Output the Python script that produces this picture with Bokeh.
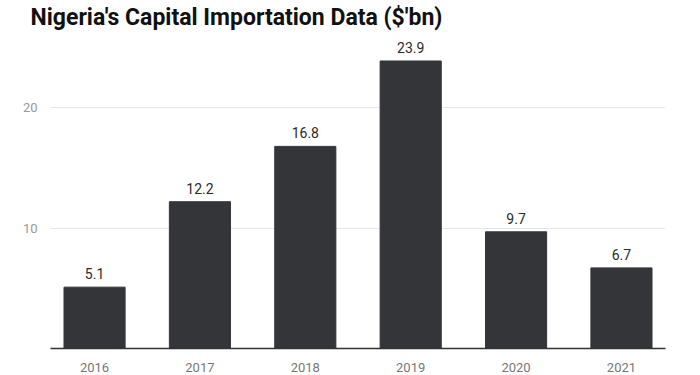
from bokeh.plotting import figure
from bokeh.models import Range1d, FixedTicker, ColumnDataSource, LabelSet, Title
from bokeh.core.properties import value
from bokeh.embed import file_html
from bokeh.resources import INLINE

years = ["2016", "2017", "2018", "2019", "2020", "2021"]
values = [5.1, 12.2, 16.8, 23.9, 9.7, 6.7]
y_ticks = [10, 20]

xs = list(range(len(years)))
src = ColumnDataSource(dict(x=xs, top=values, label=[f"{v:.1f}" for v in values]))

p = figure(width=700, height=375, output_backend="svg", toolbar_location=None,
           x_range=Range1d(-0.418, len(years) - 1 + 0.418), y_range=Range1d(0, 26.35),
           min_border_left=50, min_border_right=35, min_border_bottom=27, min_border_top=0)
p.title = None
t = Title(text="Nigeria's Capital Importation Data ($'bn)", text_font="Roboto",
          text_font_size="23px", text_font_style="bold", text_color="#111111",
          offset=-20, standoff=2)
p.add_layout(t, "above")
p.outline_line_color = None
p.background_fill_color = "white"

p.vbar(x="x", top="top", width=0.58, source=src, color="#333538")

labels = LabelSet(x="x", y="top", text="label", source=src, text_align="center",
                  text_baseline="bottom", y_offset=8, text_font=value("Roboto"),
                  text_font_size=value("14px"), text_color=value("#2a2a2a"))
p.add_layout(labels)

p.xaxis.ticker = FixedTicker(ticks=xs)
p.xaxis.major_label_overrides = {i: y for i, y in enumerate(years)}
p.xaxis.major_tick_line_color = None
p.xaxis.minor_tick_line_color = None
p.xaxis.axis_line_color = "#333333"
p.xaxis.axis_line_width = 1.5
p.xaxis.major_label_text_font = "Roboto"
p.xaxis.major_label_text_font_size = "13px"
p.xaxis.major_label_text_color = "#777777"
p.xaxis.major_label_standoff = 8

p.yaxis.ticker = FixedTicker(ticks=y_ticks)
p.yaxis.axis_line_color = None
p.yaxis.major_tick_line_color = None
p.yaxis.minor_tick_line_color = None
p.yaxis.major_label_text_font = "Roboto"
p.yaxis.major_label_text_font_size = "13px"
p.yaxis.major_label_text_color = "#999999"
p.yaxis.major_label_standoff = 7

p.xgrid.grid_line_color = None
p.ygrid.grid_line_color = "#e6e6e6"
p.ygrid.grid_line_width = 1

open("out.html", "w").write(file_html(p, INLINE))
